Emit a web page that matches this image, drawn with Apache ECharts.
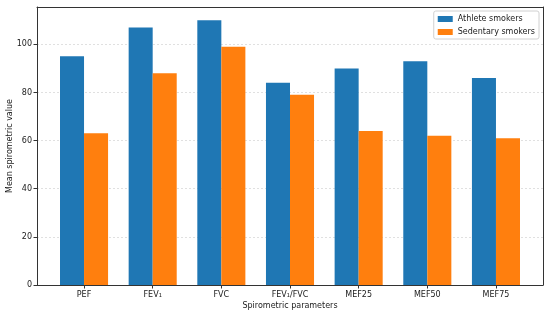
<!DOCTYPE html>
<html><head><meta charset="utf-8">
<script src="https://cdn.jsdelivr.net/npm/echarts@6/dist/echarts.min.js"></script>
<style>html,body{margin:0;padding:0;background:#fff}#c{width:550px;height:313px}</style>
</head><body><div id="c"></div>
<script>
const categories = ['PEF', 'FEV₁', 'FVC', 'FEV₁/FVC', 'MEF25', 'MEF50', 'MEF75'];
const athleteSmokers = [95, 107, 110, 84, 90, 93, 86];
const sedentarySmokers = [63, 88, 99, 79, 64, 62, 61];
const seriesNames = ['Athlete smokers', 'Sedentary smokers'];
const yMax = 115.5;

(function () {
const font = 'DejaVu Sans';
const chart = echarts.init(document.getElementById('c'), null, {renderer: 'canvas'});
const frameLeft = 37, frameRight = 543, plotTop = 7, plotBottom = 285;
const xMin = -0.685, xMax = 6.685;
const pxPerUnit = (frameRight - frameLeft) / (xMax - xMin);
const barsLeft = frameLeft + (-0.5 - xMin) * pxPerUnit;
const barsWidth = 7 * pxPerUnit;
const barW = 0.35 * pxPerUnit;

chart.setOption({
  animation: false,
  textStyle: {fontFamily: font},
  grid: [
    {left: frameLeft, width: frameRight - frameLeft, top: plotTop, height: plotBottom - plotTop, show: false, containLabel: false, outerBoundsMode: 'none'},
    {left: barsLeft, width: barsWidth, top: plotTop, height: plotBottom - plotTop, show: false, containLabel: false, outerBoundsMode: 'none'}
  ],
  legend: {
    data: seriesNames,
    orient: 'vertical',
    right: 11, top: 11,
    itemWidth: 15, itemHeight: 6, itemGap: 5,
    borderColor: '#d0d0d0', borderWidth: 1, borderRadius: 2,
    padding: [4, 4, 3, 4],
    textStyle: {fontSize: 8, color: '#1a1a1a', fontFamily: font},
    icon: 'rect'
  },
  xAxis: [
    {gridIndex: 0, type: 'value', min: xMin, max: xMax,
     axisLine: {show: true, onZero: false, lineStyle: {color: '#333', width: 1}},
     axisTick: {show: false}, axisLabel: {show: false}, splitLine: {show: false},
     name: 'Spirometric parameters', nameLocation: 'middle', nameGap: 17, nameMoveOverlap: false,
     nameTextStyle: {fontSize: 8, color: '#1a1a1a', fontFamily: font}},
    {gridIndex: 0, type: 'value', position: 'top', min: xMin, max: xMax,
     axisLine: {show: true, onZero: false, lineStyle: {color: '#333', width: 1}},
     axisTick: {show: false}, axisLabel: {show: false}, splitLine: {show: false}},
    {gridIndex: 1, type: 'category', data: categories,
     axisLine: {show: false},
     axisTick: {show: true, alignWithLabel: true, length: 3.5, lineStyle: {color: '#333'}},
     axisLabel: {fontSize: 8, color: '#1a1a1a', margin: 6, fontFamily: font}}
  ],
  yAxis: [
    {gridIndex: 0, type: 'value', min: 0, max: yMax, interval: 20,
     axisLine: {show: true, onZero: false, lineStyle: {color: '#333', width: 1}},
     axisTick: {show: true, length: 3.5, lineStyle: {color: '#333'}},
     axisLabel: {fontSize: 8, color: '#1a1a1a', margin: 5, showMaxLabel: false, fontFamily: font},
     splitLine: {show: true, lineStyle: {color: '#d8d8d8', type: [2, 2], width: 0.8}},
     name: 'Mean spirometric value', nameLocation: 'middle', nameGap: 23, nameMoveOverlap: false,
     nameTextStyle: {fontSize: 8, color: '#1a1a1a', fontFamily: font}},
    {gridIndex: 0, type: 'value', position: 'right', min: 0, max: yMax, interval: 20,
     axisLine: {show: true, onZero: false, lineStyle: {color: '#333', width: 1}},
     axisTick: {show: false}, axisLabel: {show: false}, splitLine: {show: false}},
    {gridIndex: 1, type: 'value', min: 0, max: yMax, show: false}
  ],
  series: [
    {name: seriesNames[0], type: 'bar', xAxisIndex: 2, yAxisIndex: 2, data: athleteSmokers,
     barWidth: barW, barGap: '0%', itemStyle: {color: '#1f77b4'}},
    {name: seriesNames[1], type: 'bar', xAxisIndex: 2, yAxisIndex: 2, data: sedentarySmokers,
     barWidth: barW, barGap: '0%', itemStyle: {color: '#ff7f0e'}}
  ]
});
})();
</script></body></html>
